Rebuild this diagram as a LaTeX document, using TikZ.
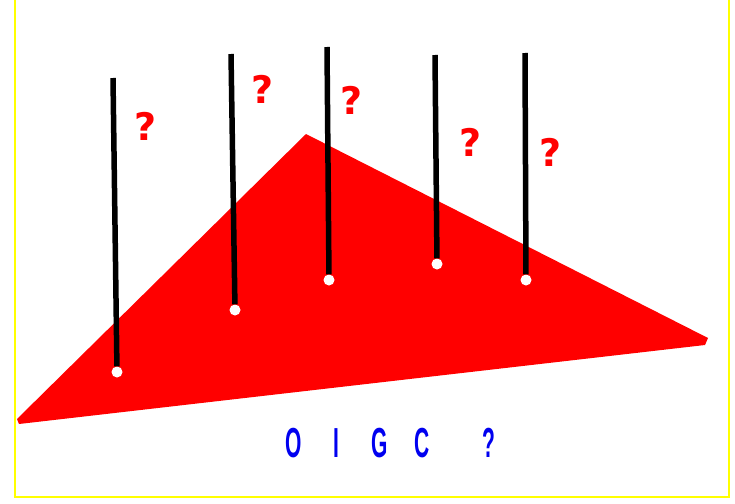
\documentclass[tikz,border=0pt]{standalone}
\usepackage{fontspec}
\usepackage{graphicx}
\usepackage{tikz}
\usetikzlibrary{positioning}
\newfontfamily\askfont{DejaVu Sans}
\newfontfamily\lblfont{Liberation Sans}
\definecolor{FYellow}{RGB}{255,255,0}
\definecolor{FRed}{RGB}{255,0,0}
\definecolor{FBlue}{RGB}{0,0,240}
\newcommand\ltr[1]{\makebox[43pt]{\scalebox{0.5}[1]{#1}}}
\tikzset{
	frame/.style={draw=FYellow, line width=2pt},
	face/.style={fill=FRed},
	rod/.style={draw=black, line width=5.5pt},
	foot/.style={circle, fill=white, inner sep=0pt, minimum size=11pt},
	ask/.style={text=FRed, inner sep=0pt, font=\askfont\bfseries\fontsize{38}{38}\selectfont},
	lbl/.style={text=FBlue, inner sep=0pt, font=\lblfont\bfseries\fontsize{42}{42}\selectfont}
}

\begin{document}
\begin{tikzpicture}[x=1pt, y=-1pt]
		\useasboundingbox (0,0) rectangle (735,503);
		\fill[white] (0,0) rectangle (735,503);
		\draw[frame] (15,-5) -- (15,497) -- (729,497) -- (729,-5);
		% the plane
		\fill[face] (17,419) -- (306,134) -- (708,338) -- (705,345) -- (19,424) -- cycle;
		% feet on the plane and tops of the rods
		\node[foot] (f1) at (117,372) {};
		\node[foot] (f2) at (235,310) {};
		\node[foot] (f3) at (329,280) {};
		\node[foot] (f4) at (437,264) {};
		\node[foot] (f5) at (526,280) {};
		\coordinate (t1) at (113,78);
		\coordinate (t2) at (231,54);
		\coordinate (t3) at (327,47);
		\coordinate (t4) at (435,55);
		\coordinate (t5) at (525,53);
		\draw[rod] (t1) -- (f1);
		\draw[rod] (t2) -- (f2);
		\draw[rod] (t3) -- (f3);
		\draw[rod] (t4) -- (f4);
		\draw[rod] (t5) -- (f5);
		\node[ask] (q1) at (146,126) {?};
		\node[ask] (q2) at (263,89) {?};
		\node[ask] (q3) at (352,100) {?};
		\node[ask] (q4) at (471,142) {?};
		\node[ask] (q5) at (551,152) {?};
		\node[lbl, anchor=base west] (word) at (271.5,457)
		{\ltr{O}\ltr{I}\ltr{G}\ltr{C}\hspace{24pt}\ltr{?}};
	\end{tikzpicture}
\end{document}
